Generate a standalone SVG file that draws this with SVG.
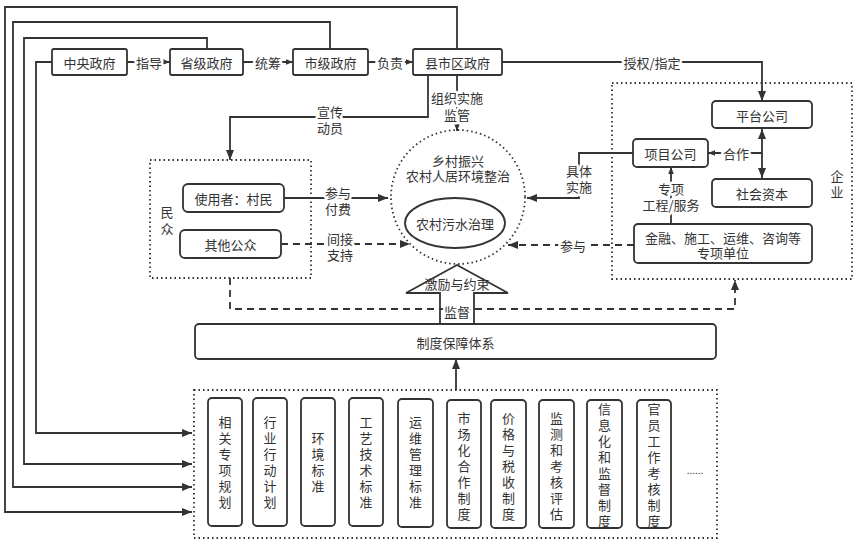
<svg xmlns="http://www.w3.org/2000/svg" width="859" height="542" viewBox="0 0 859 542">
<defs>
<marker id="ah" viewBox="0 0 10 10" refX="10" refY="5" markerWidth="10" markerHeight="10" markerUnits="userSpaceOnUse" orient="auto-start-reverse"><path d="M0,1 L10,5 L0,9 Z" fill="#333"/></marker>
<marker id="as" viewBox="0 0 10 10" refX="10" refY="5" markerWidth="7" markerHeight="7" markerUnits="userSpaceOnUse" orient="auto"><path d="M0,1 L10,5 L0,9 Z" fill="#333"/></marker>
</defs>
<style>
text{font-family:"Noto Sans CJK SC","Noto Sans",sans-serif;font-size:13px;fill:#333;text-anchor:middle;dominant-baseline:central}
.v{writing-mode:vertical-rl;letter-spacing:3px}
.box{fill:#fff;stroke:#333;stroke-width:1.8}
.dot{fill:none;stroke:#333;stroke-width:1.8;stroke-dasharray:1.5 3}
.ln{fill:none;stroke:#333;stroke-width:1.8}
.dash{fill:none;stroke:#333;stroke-width:1.8;stroke-dasharray:7 5}
.lbl{stroke:#fff;stroke-width:5;paint-order:stroke;stroke-linejoin:round}
</style>
<rect width="859" height="542" fill="#fff"/>
<g id="connectors">
<path class="ln" d="M457,49 V7 H5 V512 H192" marker-end="url(#ah)"/>
<path class="ln" d="M330,49 V22 H13 V487 H192" marker-end="url(#ah)"/>
<path class="ln" d="M207,49 V38 H24 V464 H192" marker-end="url(#ah)"/>
<path class="ln" d="M52,62 H36 V433 H192" marker-end="url(#ah)"/>
<path class="ln" d="M127,62 H170" marker-end="url(#as)"/>
<path class="ln" d="M243,62 H293" marker-end="url(#as)"/>
<path class="ln" d="M368,62 H413" marker-end="url(#as)"/>
<path class="ln" d="M428,75 V117 H230 V160" marker-end="url(#ah)"/>
<path class="ln" d="M457,75 V131" marker-end="url(#as)"/>
<path class="ln" d="M502,62 H762 V101" marker-end="url(#ah)"/>
<path class="ln" d="M284,198 H388" marker-end="url(#ah)"/>
<path class="dash" d="M281,244 H410" marker-end="url(#ah)"/>
<path class="ln" d="M633,153 H579 V198 H527" marker-end="url(#ah)"/>
<path class="dash" d="M634,245 H508" marker-end="url(#ah)"/>
<path class="ln" d="M762,153 H708" marker-end="url(#as)"/>
<path class="ln" d="M762,129 V178" marker-start="url(#ah)" marker-end="url(#ah)"/>
<path class="ln" d="M671,224 V167" marker-end="url(#as)"/>
<path class="dash" d="M230,278 V309 H735 V280" marker-end="url(#ah)"/>
<path class="ln" d="M456,390 V359" marker-end="url(#ah)"/>
<text class="lbl" x="149" y="62">指导</text>
<text class="lbl" x="268" y="62">统筹</text>
<text class="lbl" x="390" y="62">负责</text>
<text class="lbl" x="330" y="111">宣传<tspan x="330" dy="16">动员</tspan></text>
<text class="lbl" x="457" y="97">组织实施<tspan x="457" dy="17">监管</tspan></text>
<text class="lbl" x="652" y="62">授权/指定</text>
<text class="lbl" x="338" y="192">参与<tspan x="338" dy="16">付费</tspan></text>
<text class="lbl" x="340" y="238">间接<tspan x="340" dy="16">支持</tspan></text>
<text class="lbl" x="579" y="170">具体<tspan x="579" dy="16">实施</tspan></text>
<text class="lbl" x="573" y="245">参与</text>
<text class="lbl" x="736" y="153">合作</text>
<text class="lbl" x="671" y="188">专项<tspan x="671" dy="16">工程/服务</tspan></text>
</g>
<g id="gov-central"><rect class="box" x="52" y="49" width="75" height="26" rx="2"/><text x="89.5" y="62">中央政府</text></g>
<g id="gov-province"><rect class="box" x="170" y="49" width="73" height="26" rx="2"/><text x="206.5" y="62">省级政府</text></g>
<g id="gov-city"><rect class="box" x="293" y="49" width="75" height="26" rx="2"/><text x="330.5" y="62">市级政府</text></g>
<g id="gov-county"><rect class="box" x="413" y="49" width="89" height="26" rx="2"/><text x="457.5" y="62">县市区政府</text></g>
<g id="public">
<rect class="dot" x="150" y="160" width="161" height="118"/>
<text class="v" x="167" y="223" style="letter-spacing:4px">民众</text>
</g>
<g id="villagers"><rect class="box" x="183" y="184" width="101" height="28" rx="5"/><text x="233.5" y="198">使用者：村民</text></g>
<g id="other-public"><rect class="box" x="180" y="230" width="101" height="28" rx="5"/><text x="230.5" y="244">其他公众</text></g>
<g id="center">
<circle class="dot" cx="458" cy="197" r="67"/>
<text x="458" y="160">乡村振兴<tspan x="458" dy="15">农村人居环境整治</tspan></text>
</g>
<g id="sewage"><ellipse class="box" cx="455" cy="223" rx="50" ry="25"/><text x="455" y="223">农村污水治理</text></g>
<g id="enterprise">
<rect class="dot" x="612" y="83" width="240" height="196"/>
<text class="v" x="837" y="186" style="letter-spacing:3px">企业</text>
</g>
<g id="platform"><rect class="box" x="712" y="101" width="100" height="27" rx="4"/><text x="762" y="115">平台公司</text></g>
<g id="project"><rect class="box" x="633" y="139" width="75" height="28" rx="4"/><text x="670.5" y="153">项目公司</text></g>
<g id="social-capital"><rect class="box" x="712" y="179" width="100" height="28" rx="4"/><text x="762" y="193">社会资本</text></g>
<g id="units"><rect class="box" x="634" y="224" width="178" height="39" rx="4"/><text x="723" y="237">金融、施工、运维、咨询等<tspan x="723" dy="15">专项单位</tspan></text></g>
<g id="incentive">
<polygon points="457,265 508,293 474,293 474,324 440,324 440,293 406,293" fill="#fff" stroke="#333" stroke-width="1.8"/>
<text x="457" y="283">激励与约束</text>
<path class="dash" d="M440,309 H474"/>
<text class="lbl" x="457" y="311">监督</text>
</g>
<g id="system"><rect class="box" x="195" y="324" width="521" height="35" rx="4"/><text x="455.5" y="342">制度保障体系</text></g>
<g id="measures">
<rect class="dot" x="194" y="390" width="523" height="148"/>
<text x="695" y="469" style="font-size:10px">......</text>
</g>
<g id="m1"><rect class="box" x="208" y="398" width="34" height="128" rx="4"/><text class="v" x="225" y="463.5">相关专项规划</text></g>
<g id="m2"><rect class="box" x="253" y="398" width="34" height="128" rx="4"/><text class="v" x="270" y="463.5">行业行动计划</text></g>
<g id="m3"><rect class="box" x="301" y="398" width="34" height="128" rx="4"/><text class="v" x="318" y="463.5">环境标准</text></g>
<g id="m4"><rect class="box" x="349" y="398" width="34" height="128" rx="4"/><text class="v" x="366" y="463.5">工艺技术标准</text></g>
<g id="m5"><rect class="box" x="398" y="399" width="35" height="128" rx="4"/><text class="v" x="415.5" y="463.5">运维管理标准</text></g>
<g id="m6"><rect class="box" x="447" y="400" width="34" height="128" rx="4"/><text class="v" x="464" y="467.5">市场化合作制度</text></g>
<g id="m7"><rect class="box" x="491" y="400" width="35" height="128" rx="4"/><text class="v" x="508.5" y="467.5">价格与税收制度</text></g>
<g id="m8"><rect class="box" x="539" y="400" width="35" height="128" rx="4"/><text class="v" x="556.5" y="467.5">监测和考核评估</text></g>
<g id="m9"><rect class="box" x="587" y="400" width="35" height="128" rx="4"/><text class="v" x="604.5" y="466.5">信息化和监督制度</text></g>
<g id="m10"><rect class="box" x="637" y="400" width="34" height="128" rx="4"/><text class="v" x="654" y="466.5">官员工作考核制度</text></g>
</svg>
